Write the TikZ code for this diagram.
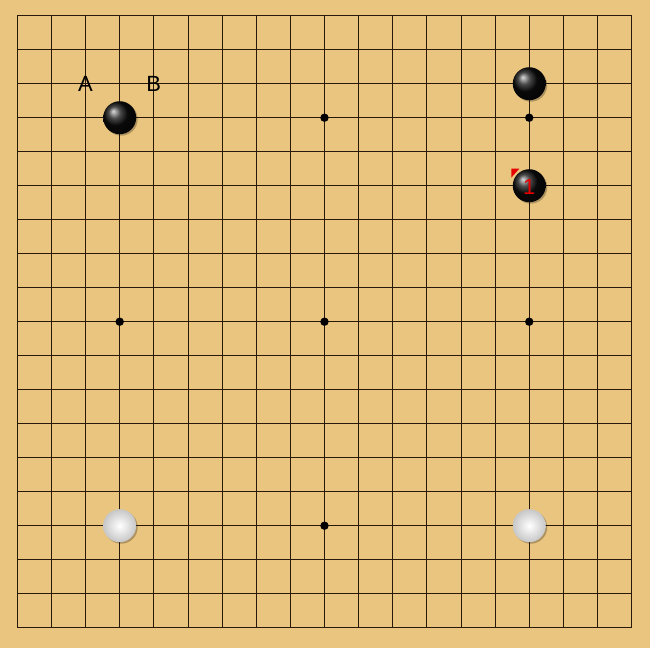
\documentclass[tikz,border=0pt]{standalone}
\usepackage{fontspec}
\setmainfont{Liberation Sans}
\definecolor{wood}{RGB}{234,197,128}
\definecolor{lineink}{RGB}{40,25,10}
\definecolor{markred}{RGB}{230,0,0}
\tikzset{
  grid line/.style={line width=0.8pt, lineink},
  hoshi/.style={fill=black},
  black stone/.style={ball color=black!95, shading=ball},
  white stone/.style={inner color=white, outer color=black!22, shading=radial},
  stone shadow/.style={fill=black, opacity=0.25},
  coord label/.style={font=\fontsize{22}{22}\selectfont, inner sep=0pt}
}
\begin{document}
\begin{tikzpicture}[x=34.13pt,y=-34pt]
	\fill[wood] (-0.507,-0.462) rectangle (18.538,18.597);
	\useasboundingbox (-0.507,-0.462) rectangle (18.538,18.597);

	% lines
	\foreach \i in {0,...,18} {
		\draw[grid line] (\i,0) -- (\i,18);
		\draw[grid line] (0,\i) -- (18,\i);
	}
	\draw[line width=1.2pt, lineink] (0,0) rectangle (18,18);

	% star points
	\foreach \x/\y in {9/3,15/3,3/9,9/9,15/9,3/15,9/15,15/15}
		\fill[hoshi] (\x,\y) circle (4.2pt);

	% last move marker
	\fill[markred] ([shift={(-18pt,17pt)}]15,5) -- ([shift={(-10pt,17pt)}]15,5) -- ([shift={(-18pt,8pt)}]15,5) -- cycle;

	% stones
	\foreach \x/\y in {3/3,15/2,15/5,3/15,15/15}
		\fill[stone shadow] ([shift={(1.5pt,-1.5pt)}]\x,\y) circle (16.5pt);
	\foreach \x/\y in {3/3,15/2,15/5}
		\shade[black stone] (\x,\y) circle (16.5pt);
	\foreach \x/\y in {3/15,15/15}
		\shade[white stone] (\x,\y) circle (16.5pt);

	\node[coord label] (labelA) at (2,2) {A};
	\node[coord label] (labelB) at (4,2) {B};
	\node[coord label, text=markred] (move1) at (15,5.05) {1};
\end{tikzpicture}
\end{document}
